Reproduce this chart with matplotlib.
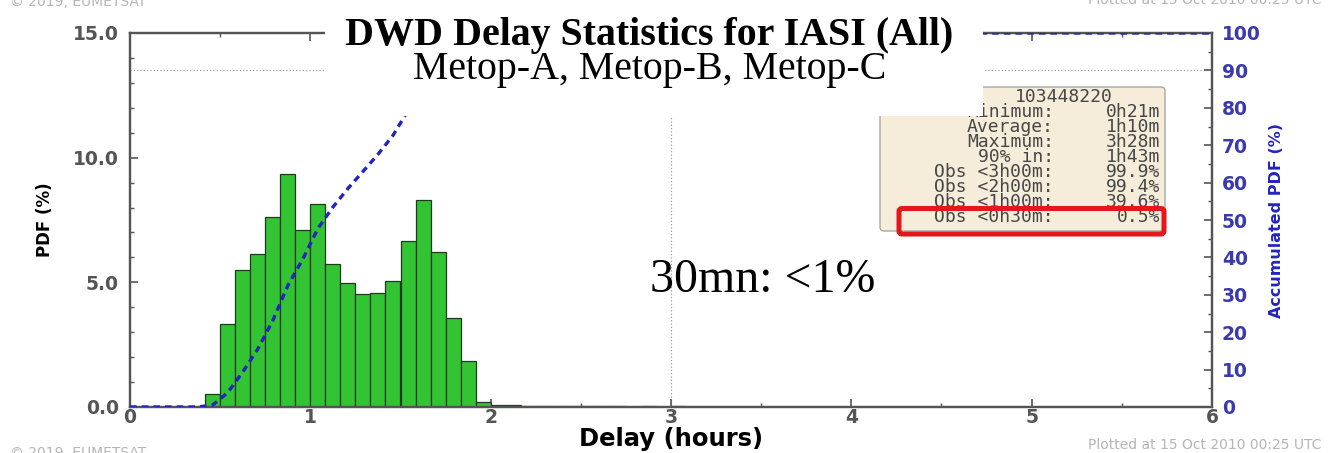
import numpy as np
import matplotlib
matplotlib.use("Agg")
import matplotlib.pyplot as plt
from matplotlib.patches import Rectangle, FancyBboxPatch
from matplotlib.transforms import IdentityTransform
from matplotlib.ticker import MultipleLocator, FormatStrFormatter

W, H = 1335, 453

# -- data: 5 minute delay bins (left edge, minutes) and PDF in percent --
bin_start_min = [20, 25, 30, 35, 40, 45, 50, 55, 60, 65, 70, 75, 80, 85, 90,
                 95, 100, 105, 110, 115, 120, 125, 130, 135, 140, 145, 150,
                 155, 160, 165, 170, 175, 180, 185, 190, 195, 200, 205]
pdf_percent = [0.0, 0.51, 3.33, 5.50, 6.13, 7.62, 9.36, 7.11, 8.14, 5.73, 4.99,
               4.54, 4.59, 5.07, 6.64, 8.31, 6.21, 3.55, 1.85, 0.20, 0.08,
               0.07, 0.06, 0.05, 0.04, 0.04, 0.03, 0.03, 0.03, 0.02, 0.03,
               0.02, 0.03, 0.02, 0.02, 0.02, 0.02, 0.01]

stats_count = "103448220"
stats_labels = ["Minimum:", "Average:", "Maximum:", "90% in:",
                "Obs <3h00m:", "Obs <2h00m:", "Obs <1h00m:", "Obs <0h30m:"]
stats_values = ["0h21m", "1h10m", "3h28m", "1h43m",
                "99.9%", "99.4%", "39.6%", "0.5%"]

title = "DWD Delay Statistics for IASI (All)"
subtitle = "Metop-A, Metop-B, Metop-C"
note = "30mn: <1%"
copyright_txt = "\u00a9 2019, EUMETSAT"
plotted_txt = "Plotted at 15 Oct 2010 00:25 UTC"

# -- derived --
bin_w = 5.0 / 60.0
left_h = np.array(bin_start_min) / 60.0
cum = np.cumsum(pdf_percent)
cum_x = np.concatenate([[0.0], left_h + bin_w / 2, [6.0]])
cum_y = np.concatenate([[0.0], cum, [cum[-1]]])

AXC = '#555555'
BLUE = '#2323bf'


def px(x, y):
    # image coords (origin top-left) -> display coords
    return x, H - y


fig = plt.figure(figsize=(W / 100, H / 100), dpi=100)
ax = fig.add_axes([130 / W, 1 - 407 / H, (1212 - 130) / W, (407 - 33) / H])
ax2 = ax.twinx()

ax.bar(left_h, pdf_percent, width=bin_w, align='edge', color='#33c433',
       edgecolor='#1d3a1d', linewidth=0.9, zorder=2)
ax.axvline(3.0, color='#9a9a9a', lw=0.9, ls=':', zorder=1)

ax2.axhline(90, color='#a0a0a0', lw=0.9, ls=':', zorder=1)
ax2.plot(cum_x, cum_y, color=BLUE, lw=2.4, ls=(0, (2.0, 1.5)), zorder=3)

ax.set_xlim(0, 6)
ax.set_ylim(0, 15)
ax2.set_ylim(0, 100)

ax.xaxis.set_major_locator(MultipleLocator(1))
ax.xaxis.set_minor_locator(MultipleLocator(0.5))
ax.yaxis.set_major_locator(MultipleLocator(5))
ax.yaxis.set_minor_locator(MultipleLocator(1))
ax.yaxis.set_major_formatter(FormatStrFormatter('%.1f'))
ax2.yaxis.set_major_locator(MultipleLocator(10))
ax2.yaxis.set_minor_locator(MultipleLocator(5))

for a in (ax, ax2):
    for s in a.spines.values():
        s.set_color(AXC)
        s.set_linewidth(1.6)

ax.tick_params(which='both', direction='in', top=True, right=False,
               color=AXC, labelcolor='#555555', labelsize=13.5)
ax.tick_params(which='major', length=6, width=1.2)
ax.tick_params(which='minor', length=3, width=1)
ax.tick_params(axis='y', pad=8)
ax.tick_params(axis='x', pad=1)
ax2.tick_params(which='both', direction='in', color=AXC,
                labelcolor='#3a3aae', labelsize=13.5, pad=7)
ax2.tick_params(which='major', length=6, width=1.2)
ax2.tick_params(which='minor', length=3, width=1)
for lab in ax.get_xticklabels() + ax.get_yticklabels() + ax2.get_yticklabels():
    lab.set_fontweight('bold')

ax.set_xlabel("Delay (hours)", fontsize=17.5, fontweight='bold', labelpad=0)
ax.set_ylabel("PDF (%)", fontsize=12, fontweight='bold', labelpad=14)
ax2.set_ylabel("Accumulated PDF (%)", fontsize=11.5, fontweight='bold',
               color=BLUE, labelpad=6)

T = IdentityTransform()

# -- stats box --
fig.add_artist(FancyBboxPatch(px(880, 231), 285, 144,
                              boxstyle='round,pad=0,rounding_size=4',
                              fc='#f6ecda', ec='#a8a8a8', lw=1,
                              transform=T, zorder=5))
mono = dict(family='DejaVu Sans Mono', fontsize=13, color='#474747',
            transform=T, zorder=6, va='baseline')
fig.text(*px(1064, 102), stats_count, ha='center', **mono)
for i, (lab, val) in enumerate(zip(stats_labels, stats_values)):
    yb = 102 + 15 * (i + 1)
    fig.text(*px(1054, yb), lab, ha='right', **mono)
    fig.text(*px(1160, yb), val, ha='right', **mono)
fig.add_artist(FancyBboxPatch(px(899, 234), 265, 25.5,
                              boxstyle='round,pad=0,rounding_size=3',
                              fc='none', ec='#e4181c', lw=3.6,
                              transform=T, zorder=7))

# -- pasted title block --
fig.add_artist(Rectangle(px(325, 116), 658, 121, fc='white', ec='none',
                         transform=T, zorder=8))
serif = ['Liberation Serif', 'DejaVu Serif']
fig.text(*px(649, 45), title, ha='center', va='baseline', fontsize=28.7,
         fontweight='bold', family=serif, transform=T, zorder=9)
fig.text(*px(650, 79), subtitle, ha='center', va='baseline', fontsize=28.7,
         family=serif, transform=T, zorder=9)
fig.text(*px(650, 292), note, ha='left', va='baseline', fontsize=34.5,
         family=serif, transform=T, zorder=9)

# -- footer / header stamps --
stamp = dict(fontsize=10, color='#b5b5b5', transform=T)
fig.text(*px(10, 6), copyright_txt, ha='left', va='baseline', **stamp)
fig.text(*px(10, 446), copyright_txt, ha='left', va='top', **stamp)
fig.text(*px(1322, 4), plotted_txt, ha='right', va='baseline', **stamp)
fig.text(*px(1322, 438), plotted_txt, ha='right', va='top', **stamp)

fig.savefig('out.png', dpi=100)
